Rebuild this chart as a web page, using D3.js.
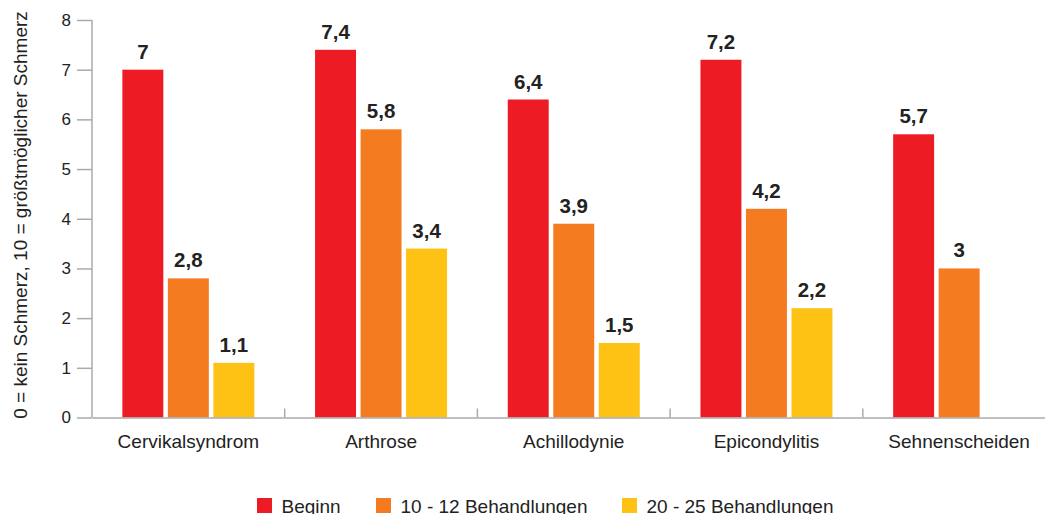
<!DOCTYPE html>
<html><head><meta charset="utf-8">
<script src="https://cdn.jsdelivr.net/npm/d3@7"></script>
<style>body{margin:0;background:#fff;} svg{display:block;font-family:"Liberation Sans",Arial,Helvetica,sans-serif;}</style>
</head><body>
<svg id="chart" width="1045" height="514"></svg>
<script>
const categories = ["Cervikalsyndrom","Arthrose","Achillodynie","Epicondylitis","Sehnenscheiden"];
const seriesNames = ["Beginn","10 - 12 Behandlungen","20 - 25 Behandlungen"];
const beginn = [7, 7.4, 6.4, 7.2, 5.7];
const behandlungen10 = [2.8, 5.8, 3.9, 4.2, 3];
const behandlungen20 = [1.1, 3.4, 1.5, 2.2, null];
const yTicks = [0,1,2,3,4,5,6,7,8];
const colors = ["#ED1C24","#F47B20","#FDC213"];
const yTitle = "0 = kein Schmerz, 10 = größtmöglicher Schmerz";

(function(){
const series = [beginn, behandlungen10, behandlungen20];
const svg = d3.select("#chart");
const mLeft = 92, mRight = 1055.5, mTop = 20, mBottom = 417.5;

const x = d3.scaleBand().domain(categories).range([mLeft, mRight]);
const xs = d3.scaleBand().domain(d3.range(3)).range([0, x.bandwidth()]).paddingInner(0.1).paddingOuter(0.667);
const y = d3.scaleLinear().domain([0, 8]).range([mBottom, mTop]);

// y axis
const ya = svg.append("g").attr("transform", `translate(${mLeft},0)`)
  .call(d3.axisLeft(y).tickValues(yTicks).tickSize(15).tickPadding(6).tickFormat(d3.format("d")));
ya.select(".domain").attr("stroke","#aaa").attr("stroke-width",1.5).attr("d", `M0,${mTop}V${mBottom}`);
ya.selectAll(".tick line").attr("stroke","#aaa").attr("stroke-width",1.5);
ya.selectAll(".tick text").attr("font-size",17).attr("fill","#222").attr("font-family","Liberation Sans, Arial, sans-serif");

// bars
categories.forEach((c, i) => {
  series.forEach((s, j) => {
    const v = s[i];
    if (v == null) return;
    svg.append("rect")
      .attr("x", x(c) + xs(j)).attr("width", xs.bandwidth())
      .attr("y", y(v)).attr("height", y(0) - y(v))
      .attr("fill", colors[j]);
    svg.append("text")
      .attr("x", x(c) + xs(j) + xs.bandwidth()/2)
      .attr("y", y(v) - 11)
      .attr("text-anchor","middle")
      .attr("font-size",20.5).attr("font-weight","bold").attr("fill","#222")
      .text(String(v).replace(".", ","));
  });
});

// x axis
const xa = svg.append("g").attr("transform", `translate(0,${mBottom})`)
  .call(d3.axisBottom(x).tickSize(0).tickPadding(17));
xa.select(".domain").attr("stroke","#aaa").attr("stroke-width",1.5);
xa.selectAll(".tick text").attr("font-size",19).attr("fill","#222").attr("font-family","Liberation Sans, Arial, sans-serif");
categories.forEach((c) => {
  const xp = x(c) + x.bandwidth();
  svg.append("line").attr("x1", xp).attr("x2", xp).attr("y1", mBottom - 9).attr("y2", mBottom)
    .attr("stroke","#aaa").attr("stroke-width",1.5);
});

// y title
svg.append("text")
  .attr("transform", `translate(27,215) rotate(-90)`)
  .attr("text-anchor","middle").attr("font-size",19).attr("fill","#222")
  .text(yTitle);

// legend
const legendX = [257, 376, 622];
seriesNames.forEach((n, j) => {
  const g = svg.append("g").attr("transform", `translate(${legendX[j]},498)`);
  g.append("rect").attr("width",15).attr("height",15).attr("fill",colors[j]);
  g.append("text").attr("x",24.5).attr("y",14.5).attr("font-size",19).attr("fill","#222").text(n);
});
})();
</script>
</body></html>
